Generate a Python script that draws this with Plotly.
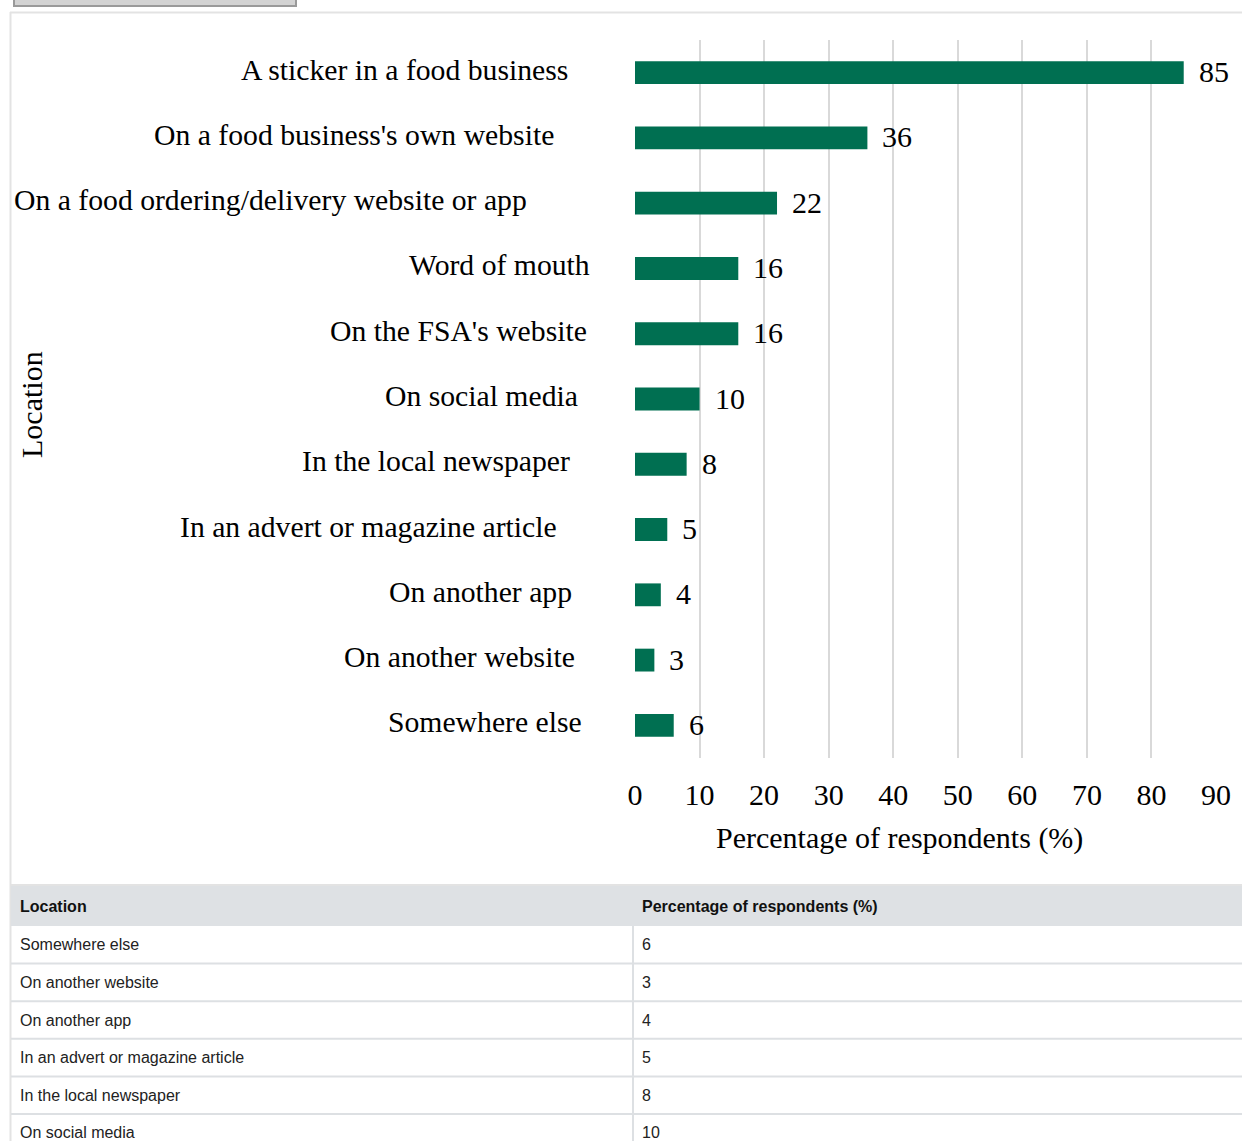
import plotly.graph_objects as go

# Survey results: where respondents have seen food hygiene ratings
locations = [
    "A sticker in a food business",
    "On a food business's own website",
    "On a food ordering/delivery website or app",
    "Word of mouth",
    "On the FSA's website",
    "On social media",
    "In the local newspaper",
    "In an advert or magazine article",
    "On another app",
    "On another website",
    "Somewhere else",
]
percentages = [85, 36, 22, 16, 16, 10, 8, 5, 4, 3, 6]
x_ticks = [0, 10, 20, 30, 40, 50, 60, 70, 80, 90]

x_title = "Percentage of respondents (%)"
y_title = "Location"
table_headers = ["Location", "Percentage of respondents (%)"]

W, H = 1242, 1141
GREEN = "#006f51"
SERIF = "Liberation Serif, Times New Roman, serif"
SANS = "Liberation Sans, Arial, sans-serif"


def px(x):
    return x / W


def py(y):
    return 1 - y / H


# Right edge (px) of each category label as laid out in the chart
label_right_px = [570, 556, 529, 592, 589, 580, 572, 559, 574, 577, 584]

fig = go.Figure()
fig.add_trace(go.Bar(
    x=percentages,
    y=locations,
    orientation="h",
    marker=dict(color=GREEN, line=dict(width=0)),
    width=0.35,
    hoverinfo="x+y",
))

annotations = []
# value labels beside the bars
for loc, v in zip(locations, percentages):
    annotations.append(dict(
        x=v, y=loc, xref="x", yref="y", text=str(v), showarrow=False,
        xanchor="left", yanchor="middle", xshift=13, yshift=1,
        font=dict(family=SERIF, size=30, color="#000"),
    ))
# category labels
for loc, r in zip(locations, label_right_px):
    annotations.append(dict(
        x=px(r), y=loc, xref="paper", yref="y", text=loc, showarrow=False,
        xanchor="right", yanchor="middle", yshift=3,
        font=dict(family=SERIF, size=29.7, color="#000"),
    ))
# y axis title
annotations.append(dict(
    x=px(31), y=py(405), xref="paper", yref="paper", text=y_title,
    showarrow=False, textangle=-90, xanchor="center", yanchor="middle",
    font=dict(family=SERIF, size=30, color="#000"),
))
# x axis title
annotations.append(dict(
    x=px(899), y=py(838), xref="paper", yref="paper", text=x_title,
    showarrow=False, xanchor="center", yanchor="middle",
    font=dict(family=SERIF, size=30, color="#000"),
))

shapes = []
# toolbar button at the top
shapes.append(dict(type="rect", xref="paper", yref="paper",
                   x0=px(14), x1=px(296), y0=py(6), y1=py(-20),
                   fillcolor="#d3d3d3", line=dict(color="#9a9a9a", width=2)))
# chart container frame
shapes.append(dict(type="line", xref="paper", yref="paper",
                   x0=px(10), x1=px(W + 5), y0=py(12.5), y1=py(12.5),
                   line=dict(color="#e3e3e3", width=2)))
shapes.append(dict(type="line", xref="paper", yref="paper",
                   x0=px(10.5), x1=px(10.5), y0=py(12), y1=py(H + 5),
                   line=dict(color="#e3e3e3", width=2)))

# data table below the chart
header_top, header_bot = 885, 926
row_h = 37.6
text_x = [18, 640]
shapes.append(dict(type="line", xref="paper", yref="paper",
                   x0=px(10), x1=px(W + 5), y0=py(header_top), y1=py(header_top),
                   line=dict(color="#e3e3e3", width=2)))
shapes.append(dict(type="rect", xref="paper", yref="paper",
                   x0=px(11), x1=px(W + 5), y0=py(header_top + 1), y1=py(header_bot),
                   fillcolor="#dee1e4", line=dict(width=0)))
for hx, htxt in zip(text_x, table_headers):
    annotations.append(dict(
        x=px(hx), y=py((header_top + header_bot) / 2 + 1), xref="paper", yref="paper",
        text="<b>%s</b>" % htxt, showarrow=False,
        xanchor="left", yanchor="middle", font=dict(family=SANS, size=16, color="#111"),
    ))
shapes.append(dict(type="line", xref="paper", yref="paper",
                   x0=px(633), x1=px(633), y0=py(header_bot), y1=py(H + 5),
                   line=dict(color="#dde0e3", width=2)))

table_rows = list(zip(locations[::-1], percentages[::-1]))
for i, (loc, v) in enumerate(table_rows):
    top = header_bot + i * row_h
    bot = top + row_h
    if top > H:
        break
    mid = (top + bot) / 2
    annotations.append(dict(
        x=px(text_x[0]), y=py(mid), xref="paper", yref="paper", text=loc,
        showarrow=False, xanchor="left", yanchor="middle",
        font=dict(family=SANS, size=16, color="#222"),
    ))
    annotations.append(dict(
        x=px(text_x[1]), y=py(mid), xref="paper", yref="paper", text=str(v),
        showarrow=False, xanchor="left", yanchor="middle",
        font=dict(family=SANS, size=16, color="#222"),
    ))
    shapes.append(dict(type="line", xref="paper", yref="paper",
                       x0=px(11), x1=px(W + 5), y0=py(bot), y1=py(bot),
                       line=dict(color="#dde0e3", width=2)))

fig.update_layout(
    width=W, height=H,
    margin=dict(l=0, r=0, t=0, b=0, autoexpand=False),
    paper_bgcolor="white", plot_bgcolor="white",
    showlegend=False,
    xaxis=dict(
        domain=[px(635), px(1216)],
        range=[0, 90], tickvals=x_ticks,
        showgrid=True, gridcolor="#d9d9d9", gridwidth=2,
        zeroline=False, showline=False, ticks="",
        tickfont=dict(family=SERIF, size=30, color="#000"),
        ticklabelstandoff=16, automargin=False,
    ),
    yaxis=dict(
        domain=[py(758), py(40)],
        categoryorder="array", categoryarray=locations[::-1],
        showticklabels=False, showgrid=False, zeroline=False,
        showline=False, ticks="", automargin=False,
    ),
    annotations=annotations,
    shapes=shapes,
)

fig.write_html("out.html")
